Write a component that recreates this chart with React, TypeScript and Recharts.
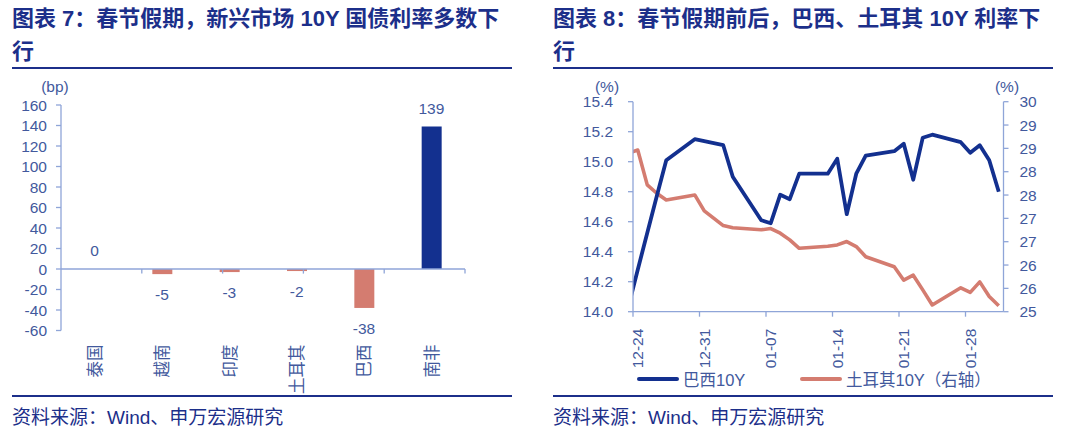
import { BarChart, Bar, Cell, XAxis, YAxis, ReferenceLine, ReferenceDot, LineChart, Line } from "recharts";

const countries = ["泰国", "越南", "印度", "土耳其", "巴西", "南非"];
const yieldChange = [0, -5, -3, -2, -38, 139];
const bpTicks = [-60, -40, -20, 0, 20, 40, 60, 80, 100, 120, 140, 160];

// calendar days, null = no trading
const dates = [
    "12-23", "12-24", "12-25", "12-26", "12-27", "12-28", "12-29", "12-30", "12-31", "01-01",
    "01-02", "01-03", "01-04", "01-05", "01-06", "01-07", "01-08", "01-09", "01-10", "01-11",
    "01-12", "01-13", "01-14", "01-15", "01-16", "01-17", "01-18", "01-19", "01-20", "01-21",
    "01-22", "01-23", "01-24", "01-25", "01-26", "01-27", "01-28", "01-29", "01-30", "01-31",
];
const brazil10y = [
    14.03, 14.28, null, 14.77, 15.01, null, null, 15.15, null, null,
    15.11, 14.9, null, null, 14.61, 14.59, 14.78, 14.75, 14.92, null,
    null, 14.92, 15.02, 14.65, 14.92, 15.04, null, null, 15.07, 15.12,
    14.88, 15.16, 15.18, null, null, 15.13, 15.06, 15.11, 15.01, 14.8,
];
const turkey10y = [
    28.77, 28.85, 28.02, 27.82, 27.66, null, null, 27.78, 27.4, null,
    27.05, 27.0, null, null, 26.95, 26.98, 26.87, 26.71, 26.51, null,
    null, 26.56, 26.59, 26.67, 26.55, 26.31, null, null, 26.07, 25.75,
    25.87, 25.52, 25.16, null, null, 25.57, 25.46, 25.71, 25.36, 25.14,
];
const dateTicks = ["12-24", "12-31", "01-07", "01-14", "01-21", "01-28"];
const brazilTicks = [14.0, 14.2, 14.4, 14.6, 14.8, 15.0, 15.2, 15.4];
const turkeyMin = 25;
const turkeyMax = 30;
const turkeyTickCount = 10;

const NAVY = "#13308f";
const SALMON = "#d47c70";
const AXIS = "#8fa5d8";
const TICK_TEXT = "#42599d";
const TITLE = "#1c2f8a";
const FONT = '"Liberation Sans", "Noto Sans CJK SC", sans-serif';

const barData = countries.map((name, i) => ({ name, value: yieldChange[i] }));

const lineData = dates.map((d, i) => ({
    x: i - 0.5,
    date: d,
    brazil: brazil10y[i],
    turkey: turkey10y[i],
}));

const xTicks = dateTicks.map((d) => dates.indexOf(d) - 1);
const turkeyTicks = Array.from(
    { length: turkeyTickCount },
    (_, i) => turkeyMin + (i * (turkeyMax - turkeyMin)) / (turkeyTickCount - 1)
);

const tickStyle = { fill: TICK_TEXT, fontSize: 15.5, fontFamily: FONT };

function CategoryTick(props: any) {
    const { x, y, payload } = props;
    return (
        <g transform={`translate(${x},${y + 12})`}>
            <text
                transform="rotate(-90)"
                textAnchor="end"
                dy="0.38em"
                fill={TICK_TEXT}
                fontSize={16.5}
                fontFamily={FONT}
            >
                {payload.value}
            </text>
        </g>
    );
}

function DateTick(props: any) {
    const { x, y, payload } = props;
    return (
        <g transform={`translate(${x},${y + 10})`}>
            <text
                transform="rotate(-90)"
                textAnchor="end"
                dy="0.65em"
                fill={TICK_TEXT}
                fontSize={15.5}
                fontFamily={FONT}
            >
                {dates[payload.value + 1]}
            </text>
        </g>
    );
}

// value label drawn at the end of each bar (above for positive, below for negative)
function barValueLabel(value: number) {
    return (props: any) => {
        const vb = props.viewBox || {};
        const cx = vb.x + (vb.width || 0) / 2;
        const cy = vb.y + (vb.height || 0) / 2;
        return (
            <text
                x={cx}
                y={value >= 0 ? cy - 18.5 : cy + 20}
                dy="0.36em"
                textAnchor="middle"
                fill={TICK_TEXT}
                fontSize={15.5}
                fontFamily={FONT}
            >
                {value}
            </text>
        );
    };
}

function Title({ left, text, second }: { left: number; text: string; second: string }) {
    return (
        <>
            <div
                style={{
                    position: "absolute",
                    left,
                    top: 2,
                    width: 510,
                    color: TITLE,
                    fontFamily: FONT,
                    fontWeight: "bold",
                    fontSize: 22,
                    lineHeight: "33px",
                    whiteSpace: "nowrap",
                }}
            >
                {text}
                <br />
                {second}
            </div>
            <div style={{ position: "absolute", left, top: 66.5, width: 500, height: 2, background: TITLE }} />
            <div style={{ position: "absolute", left, top: 395, width: 500, height: 2, background: TITLE }} />
            <div
                style={{
                    position: "absolute",
                    left,
                    top: 407,
                    color: TITLE,
                    fontFamily: FONT,
                    fontSize: 19,
                    lineHeight: "22px",
                    whiteSpace: "nowrap",
                }}
            >
                资料来源：Wind、申万宏源研究
            </div>
        </>
    );
}

function Unit({ x, text }: { x: number; text: string }) {
    return (
        <div
            style={{
                position: "absolute",
                left: x - 20,
                width: 40,
                top: 78,
                textAlign: "center",
                color: TICK_TEXT,
                fontFamily: FONT,
                fontSize: 15.5,
                lineHeight: "18px",
            }}
        >
            {text}
        </div>
    );
}

function LegendItem({ left, color, label }: { left: number; color: string; label: string }) {
    return (
        <div
            style={{
                position: "absolute",
                left,
                top: 369,
                height: 20,
                display: "flex",
                alignItems: "center",
                gap: 4,
                color: TICK_TEXT,
                fontFamily: FONT,
                fontSize: 16.5,
                whiteSpace: "nowrap",
            }}
        >
            <div style={{ width: 42, height: 3.6, borderRadius: 2, background: color }} />
            <span>{label}</span>
        </div>
    );
}

export default function App() {
    return (
        <div
            style={{
                position: "absolute",
                left: 0,
                top: 0,
                width: 1080,
                height: 436,
                background: "#fff",
                overflow: "hidden",
            }}
        >
            <Title left={12} text="图表 7：春节假期，新兴市场 10Y 国债利率多数下" second="行" />
            <Title left={553} text="图表 8：春节假期前后，巴西、土耳其 10Y 利率下" second="行" />

            <Unit x={55} text="(bp)" />
            <Unit x={607} text="(%)" />
            <Unit x={1007} text="(%)" />

            <div style={{ position: "absolute", left: 0, top: 0 }}>
                <BarChart
                    width={540}
                    height={436}
                    data={barData}
                    margin={{ top: 105, right: 75, bottom: 35.5, left: 11 }}
                >
                    <XAxis
                        dataKey="name"
                        axisLine={false}
                        tickLine={false}
                        tickSize={0}
                        height={70}
                        interval={0}
                        tick={<CategoryTick />}
                    />
                    <XAxis xAxisId="slots" type="number" domain={[0, countries.length]} hide />
                    <YAxis
                        width={50}
                        domain={[bpTicks[0], bpTicks[bpTicks.length - 1]]}
                        ticks={bpTicks}
                        interval={0}
                        axisLine={{ stroke: AXIS, strokeWidth: 1.3 }}
                        tickLine={{ stroke: AXIS, strokeWidth: 1.3 }}
                        tickSize={5}
                        tickMargin={9}
                        tick={tickStyle}
                    />
                    <ReferenceLine y={0} stroke={AXIS} strokeWidth={1.3} />
                    {countries.map((_, i) => (
                        <ReferenceLine
                            key={i}
                            xAxisId="slots"
                            segment={[
                                { x: i + 1, y: 0 },
                                { x: i + 1, y: -4.5 },
                            ]}
                            stroke={AXIS}
                            strokeWidth={1.3}
                        />
                    ))}
                    <Bar dataKey="value" barSize={20} isAnimationActive={false}>
                        {barData.map((entry, index) => (
                            <Cell key={`cell-${index}`} fill={entry.value >= 0 ? NAVY : SALMON} />
                        ))}
                    </Bar>
                    {barData.map((entry) => (
                        <ReferenceDot
                            key={entry.name}
                            x={entry.name}
                            y={entry.value}
                            r={0}
                            fill="none"
                            stroke="none"
                            label={barValueLabel(entry.value)}
                        />
                    ))}
                </BarChart>
            </div>

            <div style={{ position: "absolute", left: 540, top: 0 }}>
                <LineChart
                    width={540}
                    height={436}
                    data={lineData}
                    margin={{ top: 101.7, right: 16.5, bottom: 64.3, left: 33 }}
                >
                    <XAxis
                        dataKey="x"
                        type="number"
                        domain={[0, dates.length - 1]}
                        ticks={xTicks}
                        interval={0}
                        allowDataOverflow
                        height={60}
                        axisLine={{ stroke: AXIS, strokeWidth: 1.3 }}
                        tickLine={{ stroke: AXIS, strokeWidth: 1.3 }}
                        tickSize={5}
                        tick={<DateTick />}
                    />
                    <YAxis
                        yAxisId="left"
                        width={60}
                        domain={[brazilTicks[0], brazilTicks[brazilTicks.length - 1]]}
                        ticks={brazilTicks}
                        interval={0}
                        tickFormatter={(v: number) => v.toFixed(1)}
                        axisLine={{ stroke: AXIS, strokeWidth: 1.3 }}
                        tickLine={{ stroke: AXIS, strokeWidth: 1.3 }}
                        tickSize={5}
                        tickMargin={15}
                        tick={tickStyle}
                    />
                    <YAxis
                        yAxisId="right"
                        orientation="right"
                        width={60}
                        domain={[turkeyMin, turkeyMax]}
                        ticks={turkeyTicks}
                        interval={0}
                        tickFormatter={(v: number) => String(Math.round(v))}
                        axisLine={{ stroke: AXIS, strokeWidth: 1.3 }}
                        tickLine={{ stroke: AXIS, strokeWidth: 1.3 }}
                        tickSize={5}
                        tickMargin={11}
                        tick={{ ...tickStyle, textAnchor: "start" }}
                    />
                    <Line
                        yAxisId="right"
                        type="linear"
                        dataKey="turkey"
                        stroke={SALMON}
                        strokeWidth={3.6}
                        strokeLinejoin="round"
                        dot={false}
                        connectNulls
                        isAnimationActive={false}
                    />
                    <Line
                        yAxisId="left"
                        type="linear"
                        dataKey="brazil"
                        stroke={NAVY}
                        strokeWidth={3.8}
                        strokeLinejoin="round"
                        dot={false}
                        connectNulls
                        isAnimationActive={false}
                    />
                </LineChart>
            </div>

            <LegendItem left={637} color={NAVY} label="巴西10Y" />
            <LegendItem left={800} color={SALMON} label="土耳其10Y（右轴）" />
        </div>
    );
}
